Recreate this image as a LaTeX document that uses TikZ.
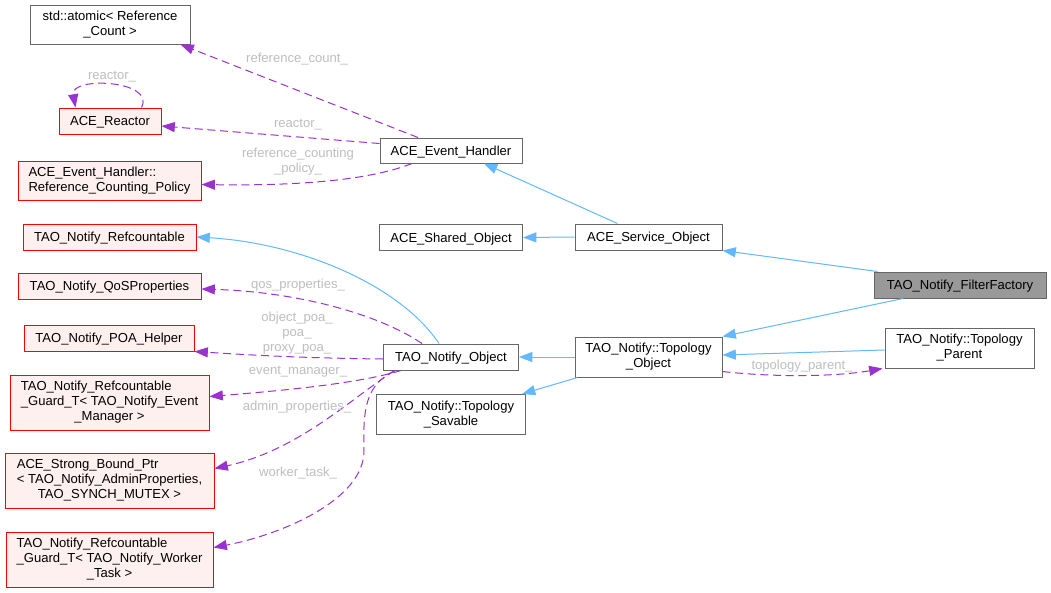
\documentclass[tikz,border=0pt]{standalone}
\usepackage{fontspec}
\setmainfont{Liberation Sans}
\usepackage{xcolor}
\usepackage{tikz}
\usetikzlibrary{arrows.meta,calc}

\definecolor{clsline}{HTML}{666666}
\definecolor{extline}{HTML}{FF0000}
\definecolor{extfill}{HTML}{FFF0F0}
\definecolor{curfill}{HTML}{999999}
\definecolor{inhcol}{HTML}{63B8FF}
\definecolor{membcol}{HTML}{9A32CD}
\definecolor{lblcol}{HTML}{BEBEBE}

\begin{document}
\begin{tikzpicture}[x=0.75pt,y=0.75pt,yscale=-1,xscale=1,
 every node/.style={font=\fontsize{9.8}{11.25}\selectfont},
 cls/.style={draw=clsline,fill=white,line width=0.75pt,inner sep=0pt,align=center},
 ext/.style={cls,draw=extline,fill=extfill},
 cur/.style={cls,fill=curfill},
 single/.style={text height=7pt,text depth=0pt},
 inh/.style={draw=inhcol,line width=0.75pt,-{Triangle[length=10pt,width=7.5pt]}},
 member/.style={draw=membcol,line width=0.75pt,dash pattern=on 6pt off 3.5pt,-{Triangle[length=10pt,width=7.5pt]}},
 lbl/.style={text=lblcol,align=center,inner sep=0pt}]

\path [fill=white,use as bounding box] (0,0) rectangle (1051,593);


\draw (110,24.5) node (atomic) [cls] [minimum width=120pt,minimum height=29.25pt] {std::atomic< Reference\\\_Count >};
\draw (110,121) node (reactor) [ext,single] [minimum width=76.5pt,minimum height=19.5pt] {ACE\_Reactor};
\draw (109.5,180.5) node (rcpolicy) [ext] [minimum width=137.25pt,minimum height=29.25pt] {\begin{tabular}{@{}l@{}}ACE\_Event\_Handler::\\Reference\_Counting\_Policy\end{tabular}};
\draw (109.5,237) node (refcnt) [ext,single] [minimum width=129.75pt,minimum height=19.5pt] {TAO\_Notify\_Refcountable};
\draw (109.5,286) node (qos) [ext,single] [minimum width=137.25pt,minimum height=19.5pt] {TAO\_Notify\_QoSProperties};
\draw (109,338) node (poa) [ext,single] [minimum width=127.5pt,minimum height=19.5pt] {TAO\_Notify\_POA\_Helper};
\draw (109.5,402.5) node (evmgr) [ext] [minimum width=149.25pt,minimum height=41.25pt] {\begin{tabular}{@{}l@{}}TAO\_Notify\_Refcountable\\\_Guard\_T< TAO\_Notify\_Event\\\multicolumn{1}{@{}c@{}}{\_Manager >}\end{tabular}};
\draw (109.5,480.5) node (sbptr) [ext] [minimum width=156.75pt,minimum height=41.25pt] {\begin{tabular}{@{}l@{}}ACE\_Strong\_Bound\_Ptr\\< TAO\_Notify\_AdminProperties,\\\multicolumn{1}{@{}c@{}}{TAO\_SYNCH\_MUTEX >}\end{tabular}};
\draw (109.5,559.5) node (wtask) [ext] [minimum width=155.25pt,minimum height=41.25pt] {\begin{tabular}{@{}l@{}}TAO\_Notify\_Refcountable\\\_Guard\_T< TAO\_Notify\_Worker\\\multicolumn{1}{@{}c@{}}{\_Task >}\end{tabular}};

\draw (451,150.5) node (evh) [cls,single] [minimum width=106.5pt,minimum height=18.75pt] {ACE\_Event\_Handler};
\draw (451,237.5) node (shobj) [cls,single] [minimum width=107.25pt,minimum height=19pt] {ACE\_Shared\_Object};
\draw (451,357) node (nobj) [cls,single] [minimum width=101.25pt,minimum height=19.5pt] {TAO\_Notify\_Object};
\draw (451,414.5) node (tsav) [cls] [minimum width=111.75pt,minimum height=30pt] {TAO\_Notify::Topology\\\_Savable};
\draw (648.5,237) node (svcobj) [cls,single] [minimum width=110.25pt,minimum height=19.5pt] {ACE\_Service\_Object};
\draw (648.5,357) node (topobj) [cls] [minimum width=110.25pt,minimum height=30pt] {TAO\_Notify::Topology\\\_Object};
\draw (960,285) node (ff) [cur,single] [minimum width=129pt,minimum height=19.5pt] {TAO\_Notify\_FilterFactory};
\draw (959.5,348) node (topparent) [cls] [minimum width=111.75pt,minimum height=30pt] {TAO\_Notify::Topology\\\_Parent};


\draw [member] ($(evh.north)+(-33,0)$) -- ($(atomic.south east)+(-10,0)$);
\draw [member] ($(reactor.north east)+(-20,0)$) .. controls (156,80) and (70,76) .. ($(reactor.north west)+(17,0)$);
\draw [member] ($(evh.west)+(0,-7)$) -- ($(reactor.east)+(0,5)$);
\draw [member] ($(evh.south)+(-39,0)$) .. controls (370,180) and (300,186) .. ($(rcpolicy.east)+(0,4)$);

\draw [inh] ($(svcobj.north)+(-31,0)$) -- ($(evh.south)+(33,0)$);
\draw [inh] (svcobj.west) -- (shobj.east);
\draw [inh] ($(ff.north west)+(4,0)$) -- (svcobj.south east);
\draw [inh] ($(ff.south)+(-57,0)$) -- (topobj.north east);
\draw [inh] ($(topparent.west)+(0,2)$) -- ($(topobj.east)+(0,-2)$);
\draw [member] ($(topobj.south east)+(0,-6)$) .. controls (780,378) and (840,376) .. ($(topparent.south west)+(-2,0)$);
\draw [inh] (topobj.west) -- (nobj.east);
\draw [inh] ($(topobj.south west)+(3,0)$) -- ($(tsav.north east)+(-4,0)$);

\draw [inh] ($(nobj.north)+(-12,0)$) .. controls (400,285) and (300,243) .. (refcnt.east);
\draw [member] ($(nobj.north)+(-29,0)$) .. controls (380,315) and (300,292) .. ($(qos.east)+(0,3)$);
\draw [member] ($(nobj.west)+(0,2)$) .. controls (300,358) and (250,355) .. (poa.south east);
\draw [member] ($(nobj.south)+(-50,0)$) .. controls (360,383) and (290,390) .. ($(evmgr.east)+(0,-6)$);
\draw [member] ($(nobj.south)+(-56,0)$) .. controls (355,395) and (300,450) .. ($(sbptr.east)+(0,-12)$);
\draw [member] ($(nobj.south)+(-56,0)$) .. controls (365,385) and (363,410) .. (364,450) .. controls (365,500) and (280,535) .. ($(wtask.east)+(0,-12)$);


\draw (297,59) node (lblrcount) [lbl] {reference\_count\_};
\draw (112,77) node (lblself) [lbl] {reactor\_};
\draw (298,125) node (lblreactor) [lbl] {reactor\_};
\draw (298,162) node (lblpolicy) [lbl] {reference\_counting\\\_policy\_};
\draw (298,285) node (lblqos) [lbl] {qos\_properties\_};
\draw (297,333) node (lblpoa) [lbl] {object\_poa\_\\poa\_\\proxy\_poa\_};
\draw (298,372) node (lblevmgr) [lbl] {event\_manager\_};
\draw (297,407) node (lbladmin) [lbl] {admin\_properties\_};
\draw (298,473) node (lblworker) [lbl] {worker\_task\_};
\draw (802,366) node (lbltopo) [lbl] {topology\_parent\_};

\end{tikzpicture}
\end{document}
